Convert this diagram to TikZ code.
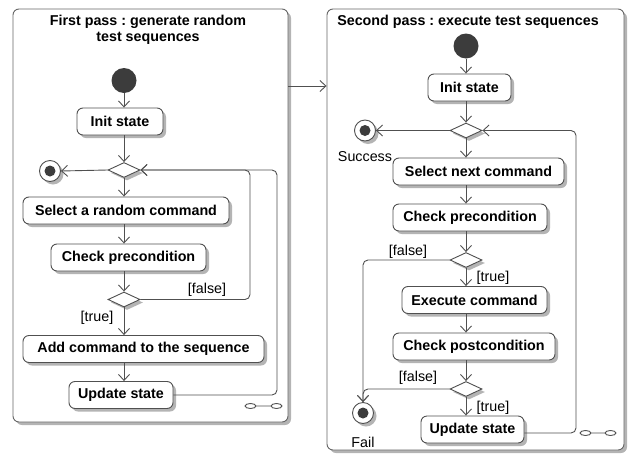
\documentclass[tikz,border=0pt]{standalone}
\usepackage{fontspec}
\setmainfont{Liberation Sans}
\frenchspacing
\usetikzlibrary{arrows.meta,shapes.geometric,shadows}
\definecolor{linegray}{HTML}{505050}
\definecolor{framegray}{HTML}{666666}
\definecolor{shadowgray}{HTML}{B4B4B4}
\definecolor{startfill}{HTML}{3C3C3C}
\newcommand\diagfont{\fontsize{14.3pt}{16.6pt}\selectfont}
\tikzset{shadowed/.style={drop shadow={shadow xshift=3pt, shadow yshift=-3pt, fill=shadowgray, opacity=1}}, flow/.style={-{Straight Barb[length=6pt,width=11pt]}, line width=.9pt, color=linegray, rounded corners=5pt}, action/.style={draw=linegray, fill=white, line width=.9pt, rounded corners=6pt, minimum height=27pt, inner sep=0pt, font=\bfseries\diagfont, shadowed}, decision/.style={diamond, draw=linegray, fill=white, line width=.9pt, minimum width=32pt, minimum height=15pt, inner sep=0pt, shadowed}, startnode/.style={circle, fill=startfill, minimum size=25pt, inner sep=0pt}, endnode/.style={circle, draw=linegray, fill=white, line width=.9pt, minimum size=21pt, inner sep=0pt, shadowed, path picture={\fill[startfill] (path picture bounding box.center) circle (5.5pt);}}, pass/.style={draw=framegray, fill=white, line width=.9pt, rounded corners=6pt, inner sep=0pt, shadowed}, guard/.style={font=\diagfont, inner sep=0pt}, title/.style={font=\bfseries\diagfont, align=center, inner sep=0pt}}

\begin{document}
\begin{tikzpicture}[x=1pt,y=-1pt]
\useasboundingbox (0,0) rectangle (632,453);
% the two passes
\node[pass, minimum width=275pt, minimum height=413pt] (pass1) at (150.5,215.5) {};
\node[pass, minimum width=297pt, minimum height=441pt] (pass2) at (475.5,229.5) {};
\node[title] (title1) at (148,30) {First pass : generate random\\test sequences};
\node[title] (title2) at (468,22) {Second pass : execute test sequences};
\coordinate (link) at (300,86);
\draw[flow] (pass1.east |- link) -- (pass2.west |- link);

% first pass
\node[startnode] (start1) at (124,80.5) {};
\node[action, minimum width=86pt] (init1) at (120,121.5) {Init state};
\node[decision] (d1) at (124,170) {};
\node[endnode] (fin1) at (50,171) {};
\node[action, minimum width=206pt] (select) at (126,210.5) {Select a random command};
\node[action, minimum width=155pt] (check1) at (128.5,257.5) {Check precondition};
\node[decision] (d2) at (124,299.5) {};
\node[action, minimum width=241pt] (add) at (143.5,349) {Add command to the sequence};
\node[action, minimum width=104pt] (update1) at (121,395) {Update state};
\node[guard] (false1) at (207,290) {[false]};
\node[guard] (true1) at (97,318) {[true]};
\coordinate (loop1) at (250,0); \coordinate (loop2) at (277,0);
\draw[flow] (start1) -- (start1 |- init1.north);
\draw[flow] (init1.south -| d1) -- (d1.north);
\draw[flow] (d1.west) -- (fin1.east);
\draw[flow] (d1.south) -- (d1 |- select.north);
\draw[flow] (select.south -| d1) -- (d1 |- check1.north);
\draw[flow] (check1.south -| d1) -- (d2.north);
\draw[flow] (d2.south) -- (d2 |- add.north);
\draw[flow] (add.south -| d2) -- (d2 |- update1.north);
\draw[flow] (d2.east) -| (loop1 |- d1) -- (d1.east);
\draw[flow] (update1.east) -| (loop2 |- d1) -- (d1.east);
\draw[linegray, line width=.9pt] (250.5,406) ellipse [x radius=5.5, y radius=2.5] (256,406) -- (271,406) (276.5,406) ellipse [x radius=5.5, y radius=2.5];

% second pass
\node[startnode] (start2) at (466,46) {};
\node[action, minimum width=83pt] (init2) at (469.5,87.5) {Init state};
\node[decision] (d3) at (466,130.5) {};
\node[endnode] (success) at (365,130.5) {};
\node[guard] (successlab) at (365,157) {Success};
\node[action, minimum width=171pt] (next) at (478.5,171.5) {Select next command};
\node[action, minimum width=154pt] (check2) at (470,217.5) {Check precondition};
\node[decision] (d4) at (466,260) {};
\node[action, minimum width=145pt] (exec) at (474.5,300) {Execute command};
\node[action, minimum width=162pt] (post) at (474,346.5) {Check postcondition};
\node[decision] (d5) at (466,389) {};
\node[action, minimum width=103pt] (update2) at (472.5,429.5) {Update state};
\node[endnode] (fail) at (363,413) {};
\node[guard] (faillab) at (363,442) {Fail};
\node[guard] (false2) at (408,252) {[false]};
\node[guard] (true2) at (493,278) {[true]};
\node[guard] (false3) at (418,378) {[false]};
\node[guard] (true3) at (493,408) {[true]};
\coordinate (loop3) at (576,0);
\draw[flow] (start2) -- (start2 |- init2.north);
\draw[flow] (init2.south -| d3) -- (d3.north);
\draw[flow] (d3.west) -- (success.east);
\draw[flow] (d3.south) -- (d3 |- next.north);
\draw[flow] (next.south -| d3) -- (d3 |- check2.north);
\draw[flow] (check2.south -| d3) -- (d4.north);
\draw[flow] (d4.south) -- (d4 |- exec.north);
\draw[flow] (exec.south -| d4) -- (d4 |- post.north);
\draw[flow] (post.south -| d4) -- (d5.north);
\draw[flow] (d5.south) -- (d5 |- update2.north);
\draw[flow] (d4.west) -| (fail.north);
\draw[flow] (d5.west) -| (fail.north);
\draw[flow] (update2.east |- 0,433) -| (loop3 |- d3) -- (d3.east);
\draw[linegray, line width=.9pt] (585.5,433) ellipse [x radius=5.5, y radius=2.5] (591,433) -- (605,433) (610.5,433) ellipse [x radius=5.5, y radius=2.5];
\end{tikzpicture}
\end{document}
